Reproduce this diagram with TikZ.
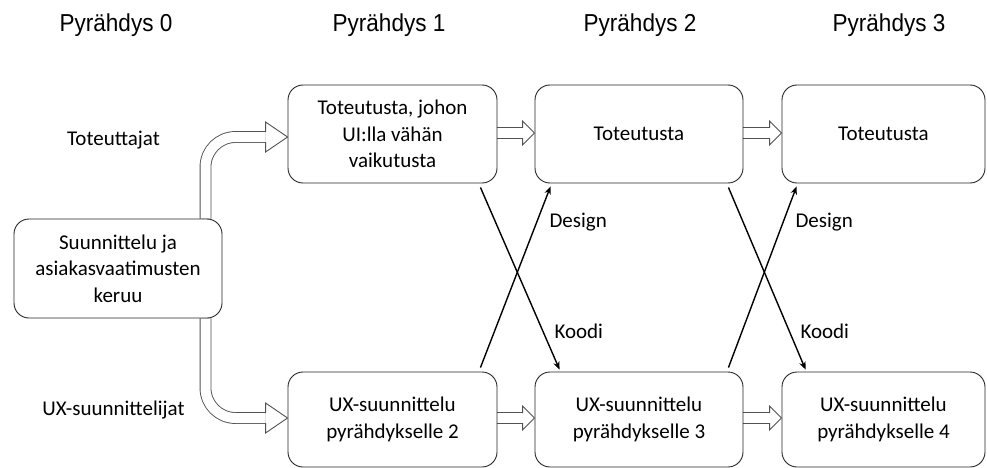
\documentclass[tikz,border=0pt]{standalone}
\usepackage{graphicx}
\usepackage{fontspec}
\setmainfont{Carlito}
\newfontfamily\headfont{Liberation Sans}
\usetikzlibrary{arrows.meta,backgrounds}

% hollow block-arrow head: #1 tip, #2 length, #3 head half-width, #4 shaft half-width
\newcommand\blockhead[4]{%
  \filldraw[hollowline, fill=white]
    (#1) ++(-#2,#4) -- ++(0,#3-#4) -- (#1) -- ++(-#2,-#3) -- ++(0,#3-#4);}
% slightly condensed column heading
\newcommand\headtext[1]{\scalebox{0.92}[1]{#1}}

\begin{document}
\begin{tikzpicture}[x=1pt, y=-1pt,
  bodyfont/.style={font=\fontsize{21}{26.5}\selectfont},
  box/.style={draw=black!85, line width=0.9pt, rounded corners=15pt,
    minimum width=209pt, minimum height=98pt, align=center, inner sep=0pt, bodyfont},
  lowbox/.style={box, minimum height=95pt},
  header/.style={font=\headfont\fontsize{24.5}{28}\selectfont, anchor=base},
  rolelabel/.style={bodyfont, anchor=base},
  flowlabel/.style={bodyfont, anchor=base west},
  hollowline/.style={draw=black!68, line width=0.9pt, line join=miter},
  hollow/.style={hollowline, double=white, double distance=10pt},
  curvedflow/.style={hollow, rounded corners=30pt},
  handoff/.style={draw=black, line width=1.4pt,
    -{Stealth[length=8pt, width=6.5pt]}},
]
\useasboundingbox (0,0) rectangle (987,468);

% column headers
\node[header] (h0) at (116,32) {\headtext{Pyrähdys 0}};
\node[header] (h1) at (389,32) {\headtext{Pyrähdys 1}};
\node[header] (h2) at (640,32) {\headtext{Pyrähdys 2}};
\node[header] (h3) at (889,32) {\headtext{Pyrähdys 3}};

% team labels
\node[rolelabel] (r1) at (113.5,145) {Toteuttajat};
\node[rolelabel] (r2) at (113.5,415) {UX-suunnittelijat};

% process boxes
\node[box, minimum width=208pt, minimum height=99pt] (b0) at (118,268.5)
  {Suunnittelu ja\\asiakasvaatimusten\\keruu};
\node[box] (t1) at (392.5,134) {Toteutusta, johon\\UI:lla vähän\\vaikutusta};
\node[box, minimum width=208pt] (t2) at (639,134) {Toteutusta};
\node[box, minimum width=203pt] (t3) at (883.5,134) {Toteutusta};
\node[lowbox] (u1) at (392.5,419.5) {UX-suunnittelu\\pyrähdykselle 2};
\node[lowbox, minimum width=208pt] (u2) at (639,419.5) {UX-suunnittelu\\pyrähdykselle 3};
\node[lowbox, minimum width=203pt] (u3) at (883.5,419.5) {UX-suunnittelu\\pyrähdykselle 4};

% hollow flow arrows (behind the boxes)
\begin{scope}[on background layer]
  \coordinate (tipT) at ([yshift=-3pt]t1.west);
  \coordinate (tipU) at ([yshift=1.5pt]u1.west);
  \draw[curvedflow] ([xshift=87.5pt]b0.north) |- ([xshift=-22pt]tipT);
  \draw[curvedflow] ([xshift=87.5pt]b0.south) |- ([xshift=-22pt]tipU);
  \draw[hollow] ([yshift=1pt]t1.east) -- ([xshift=-12pt,yshift=1pt]t2.west);
  \draw[hollow] ([yshift=1pt]t2.east) -- ([xshift=-12pt,yshift=1pt]t3.west);
  \draw[hollow] ([yshift=1.5pt]u1.east) -- ([xshift=-12pt,yshift=1.5pt]u2.west);
  \draw[hollow] ([yshift=1.5pt]u2.east) -- ([xshift=-12pt,yshift=1.5pt]u3.west);
\end{scope}
\blockhead{tipT}{22pt}{15pt}{5pt}
\blockhead{tipU}{22pt}{15pt}{5pt}
\coordinate (tipA) at ([yshift=1pt]t2.west);
\coordinate (tipB) at ([yshift=1pt]t3.west);
\coordinate (tipC) at ([yshift=1.5pt]u2.west);
\coordinate (tipD) at ([yshift=1.5pt]u3.west);
\blockhead{tipA}{12pt}{12pt}{5pt}
\blockhead{tipB}{12pt}{12pt}{5pt}
\blockhead{tipC}{12pt}{12pt}{5pt}
\blockhead{tipD}{12pt}{12pt}{5pt}

% code and design hand-offs between iterations
\draw[handoff] ([xshift=-17pt,yshift=-4pt]t1.south east) -- ([xshift=25pt,yshift=2pt]u2.north west);
\draw[handoff] ([xshift=-17pt,yshift=4pt]u1.north east) -- ([xshift=16pt,yshift=-3pt]t2.south west);
\draw[handoff] ([xshift=-15pt,yshift=-4pt]t2.south east) -- ([xshift=24pt,yshift=2pt]u3.north west);
\draw[handoff] ([xshift=-15pt,yshift=4pt]u2.north east) -- ([xshift=15pt,yshift=-3pt]t3.south west);

\node[flowlabel] (d1) at (546,227) {Design};
\node[flowlabel] (k1) at (551,338) {Koodi};
\node[flowlabel] (d2) at (792,227) {Design};
\node[flowlabel] (k2) at (797,338) {Koodi};
\end{tikzpicture}
\end{document}
